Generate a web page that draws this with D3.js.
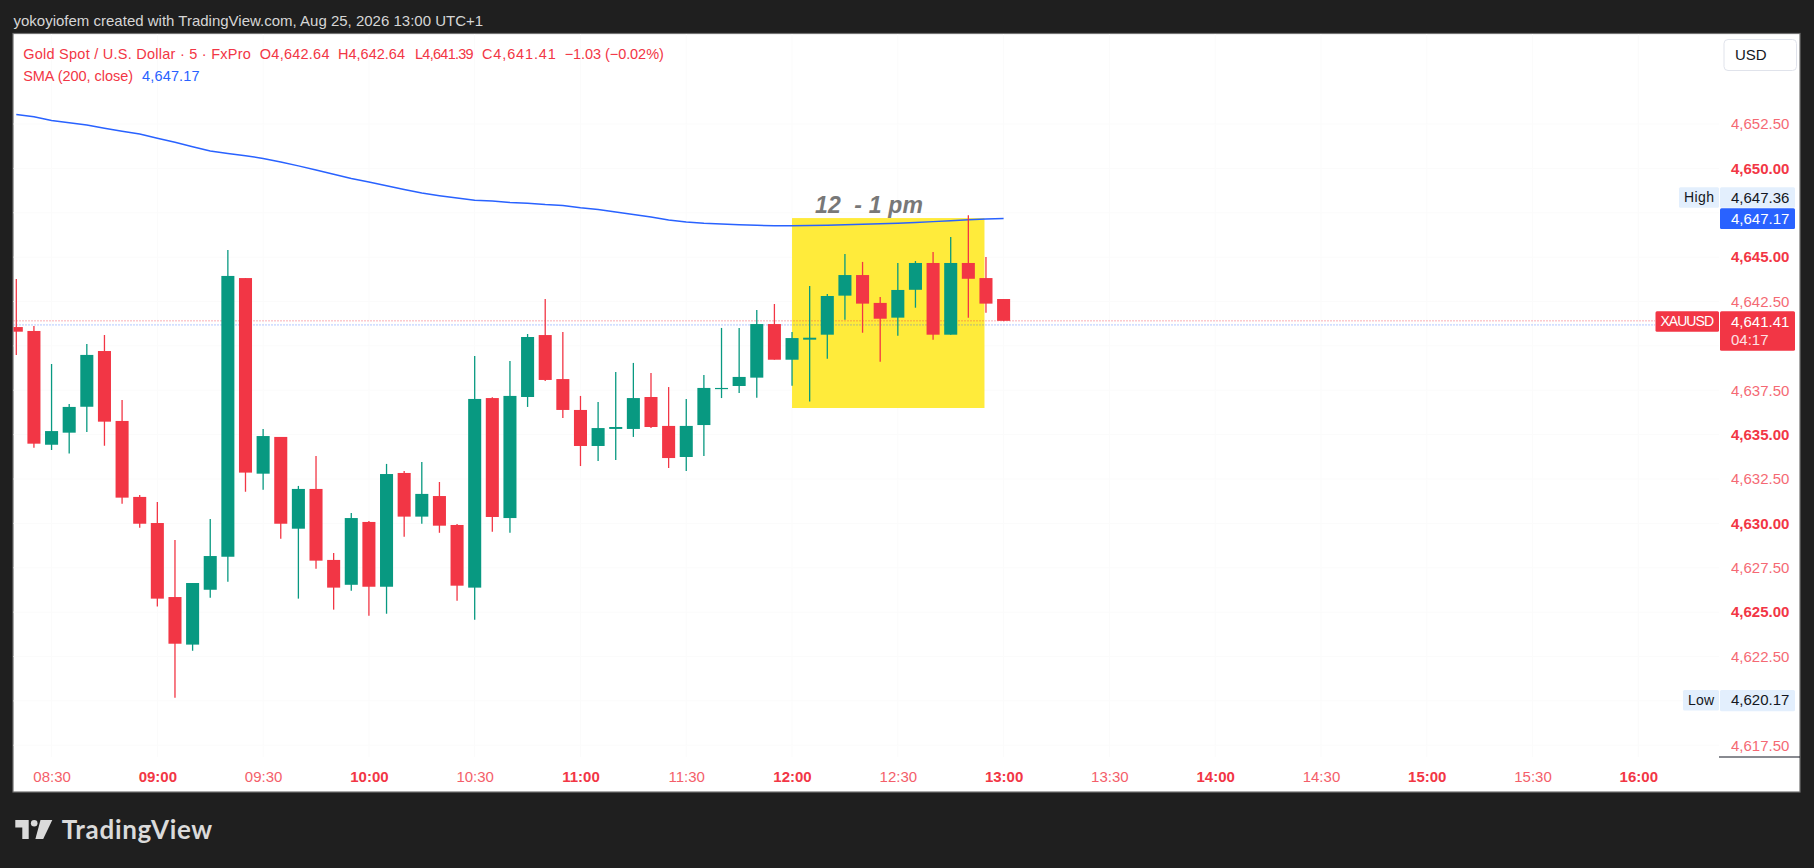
<!DOCTYPE html>
<html>
<head>
<meta charset="utf-8">
<script src="https://cdn.jsdelivr.net/npm/d3@7"></script>
<style>
  html, body { margin: 0; padding: 0; background: #1f1f1f; }
  svg { display: block; font-family: "Liberation Sans", Arial, sans-serif; }
</style>
</head>
<body>
<svg id="chart"></svg>
<script>
// Page size
const width = 1814;
const height = 868;

// Panel / plot area
const panel = { left: 13, top: 33.5, right: 1800, bottom: 792 };
const plot = { left: 13.5, top: 34, right: 1719, bottom: 757 };

// 5 minute bars, XAUUSD
const times = ["08:20","08:25","08:30","08:35","08:40","08:45","08:50","08:55",
  "09:00","09:05","09:10","09:15","09:20","09:25","09:30","09:35","09:40","09:45","09:50","09:55",
  "10:00","10:05","10:10","10:15","10:20","10:25","10:30","10:35","10:40","10:45","10:50","10:55",
  "11:00","11:05","11:10","11:15","11:20","11:25","11:30","11:35","11:40","11:45","11:50","11:55",
  "12:00","12:05","12:10","12:15","12:20","12:25","12:30","12:35","12:40","12:45","12:50","12:55",
  "13:00"];

const open = [4641.06,4640.84,4634.43,4635.11,4636.57,4639.71,4635.77,4631.49,
  4630.02,4625.85,4623.17,4626.26,4628.12,4643.82,4632.80,4634.87,4629.70,4631.94,4627.94,4626.54,
  4630.08,4626.43,4632.84,4630.38,4631.54,4629.91,4626.38,4637.06,4630.30,4637.12,4640.61,4638.13,
  4636.39,4634.36,4635.32,4635.32,4637.12,4635.49,4633.74,4635.54,4637.57,4637.74,4638.21,4641.23,
  4639.22,4640.35,4640.63,4642.83,4643.99,4642.42,4641.59,4643.16,4644.67,4640.63,4644.67,4643.82,
  4642.64];

const high = [4643.77,4641.12,4638.98,4636.73,4640.11,4640.61,4636.95,4631.60,
  4631.20,4629.06,4626.64,4630.25,4645.40,4643.82,4635.32,4634.87,4632.11,4633.80,4628.33,4630.58,
  4630.13,4633.35,4632.95,4633.46,4632.33,4629.96,4639.43,4637.10,4639.15,4640.67,4642.64,4640.78,
  4637.18,4636.84,4638.53,4639.04,4638.47,4637.68,4637.01,4638.36,4641.01,4641.01,4642.02,4642.36,
  4640.78,4643.37,4642.92,4645.18,4644.73,4642.75,4644.67,4644.78,4645.29,4646.13,4647.36,4645.01,
  4642.64];

const low = [4639.49,4634.26,4634.13,4633.93,4635.15,4634.38,4631.11,4629.76,
  4625.31,4620.17,4622.83,4625.81,4626.71,4631.78,4631.90,4629.14,4625.76,4627.45,4625.14,4626.21,
  4624.80,4624.91,4629.25,4629.98,4629.47,4625.64,4624.57,4629.53,4629.47,4636.56,4638.02,4635.94,
  4633.23,4633.51,4633.57,4634.87,4635.37,4633.12,4632.95,4633.80,4637.06,4637.35,4637.08,4639.22,
  4637.76,4636.86,4639.28,4641.47,4640.74,4639.11,4640.57,4642.15,4640.35,4640.63,4641.59,4641.87,
  4641.39];

const close = [4640.80,4634.49,4635.20,4636.56,4639.49,4635.73,4631.45,4629.98,
  4625.76,4623.22,4626.64,4628.16,4643.94,4632.86,4634.92,4629.98,4631.94,4627.90,4626.38,4630.30,
  4626.43,4632.78,4630.38,4631.66,4629.87,4626.49,4637.01,4630.36,4637.18,4640.50,4638.08,4636.39,
  4634.36,4635.37,4635.43,4637.06,4635.43,4633.68,4635.49,4637.63,4637.63,4638.25,4641.23,4639.22,
  4640.44,4640.46,4642.81,4643.99,4642.38,4641.53,4643.15,4644.67,4640.63,4644.67,4643.78,4642.38,
  4641.41];

const sma200 = [4653.04,4652.91,4652.70,4652.57,4652.44,4652.26,4652.09,4651.94,
  4651.70,4651.47,4651.22,4650.98,4650.84,4650.71,4650.56,4650.36,4650.14,4649.91,4649.67,4649.43,
  4649.23,4649.02,4648.81,4648.61,4648.46,4648.33,4648.21,4648.16,4648.08,4648.04,4647.96,4647.91,
  4647.78,4647.68,4647.54,4647.40,4647.26,4647.09,4646.98,4646.91,4646.87,4646.83,4646.79,4646.77,
  4646.77,4646.78,4646.80,4646.82,4646.85,4646.88,4646.91,4646.95,4647.00,4647.05,4647.10,4647.15,
  4647.17];

// Axis
const priceTicks = d3.range(4617.5, 4652.51, 2.5);
const timeDomain = ["08:20", "16:00"];

// Highlight box "12 - 1 pm"
const boxTimes = ["12:00", "12:55"];
const boxPrices = [4647.2, 4636.5];
const boxLabel = "12  - 1 pm";

// Price scale markers
const lastPrice = 4641.41;
const lastCountdown = "04:17";
const bidLine = 4641.18;
const dayHigh = 4647.36;
const dayLow = 4620.17;
const smaLast = 4647.17;

const upColor = "#089981";
const downColor = "#f23645";
const smaColor = "#2962ff";

const parseTime = d3.timeParse("%H:%M");
const fmt = d3.format(",.2f");

const bars = times.map((t, i) => ({
  t: parseTime(t), o: open[i], h: high[i], l: low[i], c: close[i], sma: sma200[i]
}));

const svg = d3.select("#chart")
  .attr("width", width)
  .attr("height", height);

// Background
svg.append("rect").attr("width", width).attr("height", height).attr("fill", "#1f1f1f");

svg.append("text")
  .attr("x", 13.5).attr("y", 26)
  .attr("fill", "#d6d6d6")
  .attr("font-size", 15)
  .text("yokoyiofem created with TradingView.com, Aug 25, 2026 13:00 UTC+1");

svg.append("rect")
  .attr("x", panel.left).attr("y", panel.top)
  .attr("width", panel.right - panel.left).attr("height", panel.bottom - panel.top)
  .attr("fill", "#ffffff")
  .attr("stroke", "#707070").attr("stroke-width", 1.2);

// Scales
const x = d3.scaleTime()
  .domain(timeDomain.map(parseTime))
  .range([16.3, 1638.3]);

const y = d3.scaleLinear()
  .domain([4617.5, 4652.5])
  .range([745.25, 124]);

const step = x(parseTime("08:25")) - x(parseTime("08:20"));
const bodyW = step * 0.74;

// Grid (barely visible)
const timeTicks = x.ticks(d3.timeMinute.every(30));
svg.append("g").selectAll("line")
  .data(timeTicks).enter().append("line")
  .attr("x1", d => x(d)).attr("x2", d => x(d))
  .attr("y1", plot.top).attr("y2", plot.bottom)
  .attr("stroke", "#fbfbfb");

svg.append("g").selectAll("line")
  .data(priceTicks).enter().append("line")
  .attr("x1", plot.left).attr("x2", plot.right)
  .attr("y1", d => y(d)).attr("y2", d => y(d))
  .attr("stroke", "#fbfbfb");

// Clip
svg.append("clipPath").attr("id", "clip")
  .append("rect")
  .attr("x", plot.left).attr("y", plot.top)
  .attr("width", plot.right - plot.left).attr("height", plot.bottom - plot.top);

const g = svg.append("g").attr("clip-path", "url(#clip)");

// Highlight box
const bt = boxTimes.map(parseTime);
g.append("rect")
  .attr("x", x(bt[0]))
  .attr("y", y(boxPrices[0]))
  .attr("width", x(bt[1]) - x(bt[0]) - 1.5)
  .attr("height", y(boxPrices[1]) - y(boxPrices[0]))
  .attr("fill", "#ffeb3b");

g.append("text")
  .attr("x", 815).attr("y", 212.5)
  .attr("fill", "#787878")
  .attr("font-size", 23)
  .attr("font-weight", "bold")
  .attr("font-style", "italic")
  .attr("textLength", 108)
  .style("white-space", "pre")
  .text(boxLabel);

// Last price lines
g.append("line")
  .attr("x1", plot.left).attr("x2", 1655)
  .attr("y1", y(lastPrice)).attr("y2", y(lastPrice))
  .attr("stroke", downColor).attr("stroke-width", 1)
  .attr("stroke-dasharray", "1,2").attr("opacity", 0.8);

g.append("line")
  .attr("x1", plot.left).attr("x2", 1655)
  .attr("y1", y(bidLine)).attr("y2", y(bidLine))
  .attr("stroke", smaColor).attr("stroke-width", 1)
  .attr("stroke-dasharray", "1,2").attr("opacity", 0.7);

// SMA
g.append("path")
  .datum(bars)
  .attr("fill", "none")
  .attr("stroke", smaColor)
  .attr("stroke-width", 1.5)
  .attr("d", d3.line().x(d => x(d.t)).y(d => y(d.sma)));

// Candles
const candle = g.selectAll(".candle")
  .data(bars).enter().append("g")
  .attr("class", "candle");

candle.append("line")
  .attr("x1", d => x(d.t)).attr("x2", d => x(d.t))
  .attr("y1", d => y(d.h)).attr("y2", d => y(d.l))
  .attr("stroke", d => d.c >= d.o ? upColor : downColor)
  .attr("stroke-width", 1.3);

candle.append("rect")
  .attr("x", d => x(d.t) - bodyW / 2)
  .attr("y", d => y(Math.max(d.o, d.c)))
  .attr("width", bodyW)
  .attr("height", d => Math.max(1.2, Math.abs(y(d.o) - y(d.c))))
  .attr("fill", d => d.c >= d.o ? upColor : downColor);

// Time axis
const xAxis = svg.append("g")
  .attr("transform", `translate(0,${plot.bottom})`)
  .call(d3.axisBottom(x)
    .tickValues(timeTicks)
    .tickSize(0)
    .tickPadding(14)
    .tickFormat(d3.timeFormat("%H:%M")));

xAxis.select(".domain").remove();
xAxis.selectAll("text")
  .attr("font-size", 15)
  .attr("font-family", "'Liberation Sans', Arial, sans-serif")
  .attr("fill", downColor)
  .attr("font-weight", d => d.getMinutes() === 0 ? "bold" : "normal")
  .attr("opacity", d => d.getMinutes() === 0 ? 1 : 0.8);

// Price axis: labels covered by the marker boxes are not drawn
const markerYs = [197.6, y(smaLast), y(lastPrice) + 10, y(dayLow) + 2.4];
const visibleTicks = priceTicks.filter(p => markerYs.every(m => Math.abs(y(p) - m) > 16));

const yAxis = svg.append("g")
  .attr("transform", "translate(1731,0)")
  .call(d3.axisRight(y)
    .tickValues(visibleTicks)
    .tickSize(0)
    .tickPadding(0)
    .tickFormat(fmt));

yAxis.select(".domain").remove();
yAxis.selectAll("text")
  .attr("font-size", 15)
  .attr("font-family", "'Liberation Sans', Arial, sans-serif")
  .attr("fill", downColor)
  .attr("font-weight", d => d % 5 === 0 ? "bold" : "normal")
  .attr("opacity", d => d % 5 === 0 ? 1 : 0.75);

svg.append("line")
  .attr("x1", 1719).attr("x2", 1800)
  .attr("y1", plot.bottom).attr("y2", plot.bottom)
  .attr("stroke", "#131722").attr("stroke-width", 1.2);

// Price labels
function priceBox(cy, h, fill, textColor, lines, tag) {
  const top = cy - 10.3;
  svg.append("rect")
    .attr("x", 1720).attr("y", top)
    .attr("width", 75).attr("height", h)
    .attr("rx", 1.5)
    .attr("fill", fill);
  lines.forEach((s, i) => {
    svg.append("text")
      .attr("x", 1731).attr("y", top + 15.5 + i * 18)
      .attr("font-size", 15)
      .attr("fill", textColor)
      .attr("opacity", i === 0 ? 1 : 0.85)
      .text(s);
  });
  if (tag) {
    svg.append("rect")
      .attr("x", 1719 - tag.w).attr("y", top)
      .attr("width", tag.w).attr("height", 20.5)
      .attr("rx", 1.5)
      .attr("fill", tag.fill);
    svg.append("text")
      .attr("x", 1719 - tag.w / 2).attr("y", top + 15)
      .attr("text-anchor", "middle")
      .attr("font-size", 14)
      .attr("fill", tag.color)
      .attr("textLength", tag.w - 10)
      .text(tag.s);
  }
}

// High (pushed up above the SMA label)
priceBox(197.6, 20.4, "#e3effd", "#131722", [fmt(dayHigh)],
  { s: "High", w: 40, fill: "#e3effd", color: "#131722" });
priceBox(y(smaLast), 20.7, smaColor, "#ffffff", [fmt(smaLast)]);
priceBox(y(lastPrice) + 0.7, 39.5, downColor, "#ffffff", [fmt(lastPrice), lastCountdown],
  { s: "XAUUSD", w: 63.5, fill: downColor, color: "#ffffff" });
priceBox(y(dayLow) + 2.4, 21.4, "#e3effd", "#131722", [fmt(dayLow)],
  { s: "Low", w: 36, fill: "#e3effd", color: "#131722" });

// Currency button
svg.append("rect")
  .attr("x", 1724).attr("y", 39.5)
  .attr("width", 72.5).attr("height", 31)
  .attr("rx", 4)
  .attr("fill", "#ffffff")
  .attr("stroke", "#e0e3eb");
svg.append("text")
  .attr("x", 1735).attr("y", 60)
  .attr("font-size", 15)
  .attr("fill", "#131722")
  .text("USD");

// Legend
const legend1 = [
  { x: 23.2, w: 227.7, s: "Gold Spot / U.S. Dollar · 5 · FxPro" },
  { x: 259.8, w: 69.7, s: "O" + fmt(open[open.length - 1]) },
  { x: 338, w: 67, s: "H" + fmt(high[high.length - 1]) },
  { x: 415, w: 58.7, s: "L" + fmt(low[low.length - 1]) },
  { x: 482, w: 73.8, s: "C" + fmt(close[close.length - 1]) },
  { x: 564.7, w: 99.1, s: "\u22121.03 (\u22120.02%)" }
];
svg.append("g").selectAll("text")
  .data(legend1).enter().append("text")
  .attr("x", d => d.x).attr("y", 58.5)
  .attr("font-size", 14.5)
  .attr("fill", downColor)
  .attr("textLength", d => d.w)
  .text(d => d.s);

svg.append("text")
  .attr("x", 23.2).attr("y", 80.5)
  .attr("font-size", 14.5)
  .attr("fill", downColor)
  .attr("textLength", 109.8)
  .text("SMA (200, close)");
svg.append("text")
  .attr("x", 142).attr("y", 80.5)
  .attr("font-size", 14.5)
  .attr("fill", smaColor)
  .attr("textLength", 57.6)
  .text(fmt(smaLast));

// TradingView logo
const logo = svg.append("g").attr("fill", "#dadada");
logo.append("path").attr("d", "M15.3,820 H28.7 V839 H22.3 V827.5 H15.3 Z");
logo.append("circle").attr("cx", 34.2).attr("cy", 823.3).attr("r", 3.3);
logo.append("path").attr("d", "M40.5,820 H52.3 L43.2,839 H35.4 Z");
logo.append("text")
  .attr("x", 61.7).attr("y", 839)
  .attr("font-family", "Lato, 'Liberation Sans', sans-serif")
  .attr("font-weight", "bold")
  .attr("font-size", 26)
  .attr("textLength", 150.5)
  .text("TradingView");
</script>
</body>
</html>
